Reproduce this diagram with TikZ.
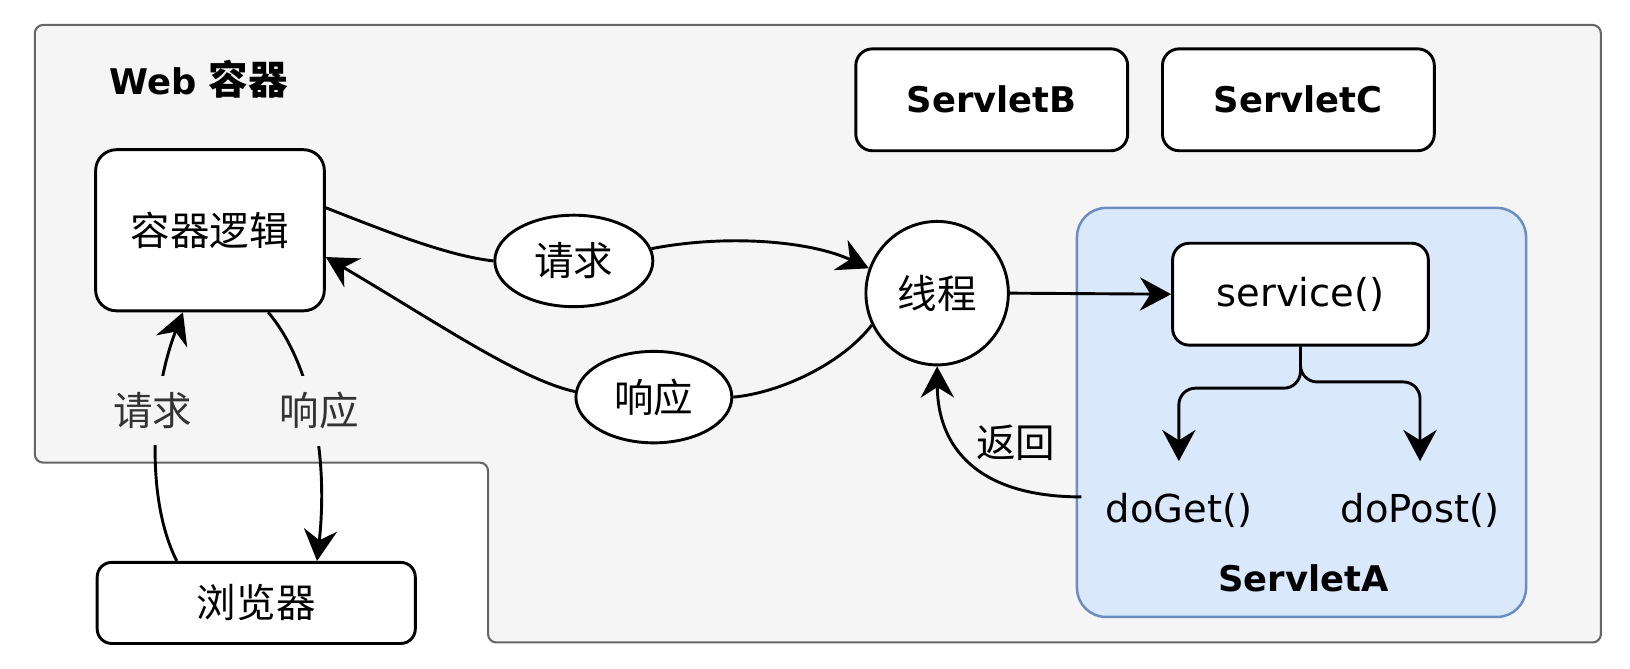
\documentclass[tikz,border=0pt]{standalone}
\usepackage{fontspec}
\setmainfont{DejaVu Sans}
\newfontfamily\cjk{Noto Sans CJK SC}
\usetikzlibrary{arrows.meta,shapes.geometric}
\definecolor{contfill}{HTML}{F5F5F5}
\definecolor{contline}{HTML}{666666}
\definecolor{bluefill}{HTML}{DAE8FC}
\definecolor{blueline}{HTML}{6C8EBF}
\definecolor{labelgray}{HTML}{333333}
\begin{document}
\begin{tikzpicture}[x=0.5pt,y=-0.5pt,
  every node/.style={inner sep=0pt},
  box/.style={draw=black, fill=white, line width=1.4pt, rounded corners=8pt},
  oval/.style={draw=black, fill=white, line width=1.4pt, ellipse, inner sep=0pt},
  cjkf/.style={font=\cjk\fontsize{19}{23}\selectfont},
  latf/.style={font=\fontsize{18.5}{22}\selectfont},
  boldf/.style={font=\fontsize{17}{21}\selectfont\bfseries},
  conn/.style={line width=1.4pt, draw=black},
  arr/.style={conn, -{Stealth[length=15pt,width=16pt,inset=5pt]}},
  edgelabel/.style={cjkf, text=labelgray, fill=contfill, inner xsep=1pt, inner ysep=8pt},
]
\fill[white] (0,0) rectangle (1568,643);
\useasboundingbox (0,0) rectangle (1568,643);

% Web container
\draw[fill=contfill, draw=contline, line width=1pt, rounded corners=4pt]
  (33.5,24) -- (1540,24) -- (1540,618) -- (469.5,618) -- (469.5,445) -- (33.5,445) -- cycle;
\node[anchor=west, boldf] (title) at (105,76) {Web {\cjk\fontsize{19}{23}\selectfont 容器}};

% ServletA container
\node[draw=blueline, fill=bluefill, line width=1.2pt, rounded corners=14pt,
      minimum width=216pt, minimum height=196.75pt] (sa) at (1252,396.75) {};
\node[boldf] (salabel) at (1254,556) {ServletA};

% boxes
\node[box, minimum width=110pt, minimum height=77.5pt, rounded corners=10pt, cjkf] (logic) at (202,221.5) {容器逻辑};
\node[box, minimum width=153pt, minimum height=39pt, rounded corners=7pt, cjkf] (browser) at (246.5,580) {浏览器};
\node[box, minimum width=130.75pt, minimum height=49pt, boldf] (sb) at (954,96) {ServletB};
\node[box, minimum width=130.75pt, minimum height=49pt, boldf] (sc) at (1249,96) {ServletC};
\node[box, minimum width=123pt, minimum height=49pt, latf] (service) at (1251,283) {service()};
\node[latf, minimum height=47pt, inner xsep=11.5pt] (doget) at (1134,491) {doGet()};
\node[latf, minimum height=47pt] (dopost) at (1366,491) {doPost()};

% ellipses
\node[oval, minimum width=76pt, minimum height=44pt, cjkf] (req) at (552,251) {请求};
\node[oval, minimum width=75pt, minimum height=44pt, cjkf] (resp) at (629,382) {响应};
\node[oval, minimum width=68.5pt, minimum height=69pt, cjkf] (thread) at (901.5,282) {线程};

% connectors
\draw[conn] (logic.11) .. controls (370,222) and (430,246) .. (req.west);
\draw[arr] (req.9) .. controls (700,225) and (780,232) .. (thread.160);
\draw[conn] (thread.206) .. controls (810,350) and (750,378) .. (resp.east);
\draw[arr] (resp.176) .. controls (500,365) and (420,310) .. (logic.-13);
\draw[arr] (thread.east) -- (service.west);
\draw[arr, rounded corners=8pt] (service.south) -- ++(0,40) -| (doget.north);
\draw[arr, rounded corners=8pt] (service.south) -- ++(0,34) -| (dopost.north);
\draw[arr] ([yshift=6.5pt]doget.west) .. controls (940,478) and (902,430) .. (thread.south);
\draw[arr] ([xshift=-38.25pt]browser.north) .. controls (140,480) and (145,380) .. ([xshift=-13pt]logic.south);
\draw[arr] ([xshift=28pt]logic.south) .. controls (300,350) and (316,440) .. ([xshift=29.25pt]browser.north);

% labels
\node[edgelabel] (lreq) at (147,395) {请求};
\node[edgelabel] (lresp) at (307,395) {响应};
\node[cjkf] (ret) at (977,426) {返回};
\end{tikzpicture}
\end{document}
